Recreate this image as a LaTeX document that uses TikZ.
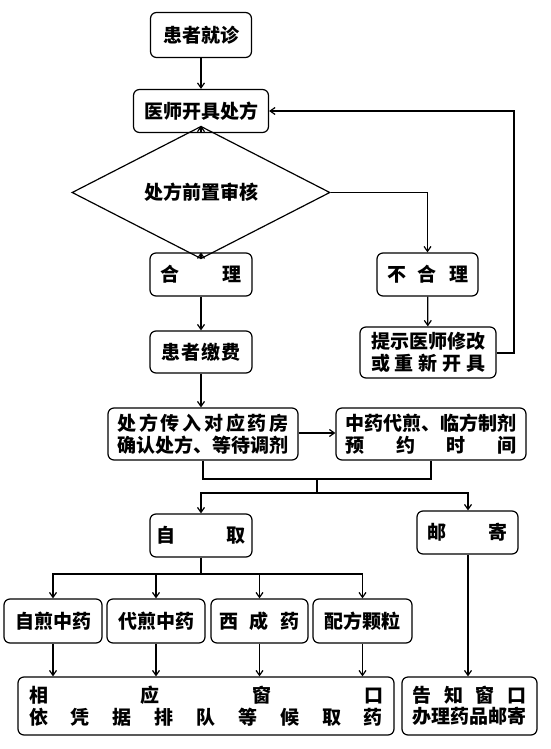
\documentclass[tikz,border=0pt]{standalone}
\usepackage{fontspec}
\setmainfont{Noto Sans CJK SC}
\usetikzlibrary{shapes.geometric,arrows.meta}
\newcommand{\sprd}[2]{\makebox[#1]{#2}}
\begin{document}
\begin{tikzpicture}[x=1pt,y=-1pt,
  box/.style={draw,rounded corners=6pt,line width=1.2pt,inner sep=0pt,font=\fontsize{19}{21.5}\selectfont\bfseries,align=center},
  dia/.style={draw,diamond,line width=1.2pt,inner sep=0pt,font=\fontsize{19}{21.5}\selectfont\bfseries},
  conn/.style={line width=1.2pt},
  arr/.style={line width=1.2pt,-{Straight Barb[length=5pt,width=7pt]}}]
\useasboundingbox (0,0) rectangle (550,749);
\node[box,minimum width=101pt,minimum height=45pt] (a) at (201,35) {患者就诊};
\node[box,minimum width=135pt,minimum height=43pt] (b) at (201,111) {医师开具处方};
\node[dia,minimum width=258pt,minimum height=51pt] (c) at (201,192.5) {处方前置审核};
\node[box,minimum width=102pt,minimum height=43pt] (d) at (201,274.5) {\sprd{81pt}{合\hfill 理}};
\node[box,minimum width=101pt,minimum height=43pt] (e) at (427.5,274.5) {\sprd{81pt}{不\hfill 合\hfill 理}};
\node[box,minimum width=136pt,minimum height=51pt] (f) at (428,352.5) {\sprd{114pt}{提示医师修改}\\\sprd{114pt}{或\hfill 重\hfill 新\hfill 开\hfill 具}};
\node[box,minimum width=102pt,minimum height=42pt] (g) at (201,352) {\sprd{80pt}{患\hfill 者\hfill 缴\hfill 费}};
\node[box,minimum width=190pt,minimum height=52pt] (h) at (203,434) {\sprd{171pt}{处\hfill 方\hfill 传\hfill 入\hfill 对\hfill 应\hfill 药\hfill 房}\\\sprd{171pt}{确认处方、等待调剂}};
\node[box,minimum width=190pt,minimum height=52pt] (i) at (431,434) {\sprd{171pt}{中药代煎、临方制剂}\\\sprd{171pt}{预\hfill 约\hfill 时\hfill 间}};
\node[box,minimum width=102pt,minimum height=43pt] (j) at (201,535.5) {\sprd{89pt}{自\hfill 取}};
\node[box,minimum width=101pt,minimum height=43pt] (k) at (467.5,532.5) {\sprd{80pt}{邮\hfill 寄}};
\node[box,minimum width=98pt,minimum height=44pt] (l1) at (53,621) {自煎中药};
\node[box,minimum width=98pt,minimum height=44pt] (l2) at (156,621) {代煎中药};
\node[box,minimum width=97pt,minimum height=44pt] (l3) at (259.5,621) {\sprd{80pt}{西\hfill 成\hfill 药}};
\node[box,minimum width=99pt,minimum height=44pt] (l4) at (362.5,621) {配方颗粒};
\node[box,minimum width=376pt,minimum height=58pt] (m) at (206,706) {\sprd{354pt}{相\hfill 应\hfill 窗\hfill 口}\\\sprd{354pt}{依\hfill 凭\hfill 据\hfill 排\hfill 队\hfill 等\hfill 候\hfill 取\hfill 药}};
\node[box,minimum width=135pt,minimum height=58pt] (n) at (469.5,706) {\sprd{114pt}{告\hfill 知\hfill 窗\hfill 口}\\\sprd{114pt}{办理药品邮寄}};
\coordinate (fb) at (514,353);
\coordinate (j1) at (317,479);
\coordinate (j2) at (317,493);
\coordinate (s1) at (201,574);
\draw[arr] (a) -- (b);
\draw[arr] (b) -- (c);
\draw[arr] (c) -- (d);
\draw[arr] (c.east) -| (e.north);
\draw[arr] (e) -- (f);
\draw[arr] (f.east |- fb) -- (fb) |- (b.east);
\draw[arr] (d) -- (g);
\draw[arr] (g.south) -- (g.south |- h.north);
\draw[arr] (h.east |- 0,433) -- (i.west |- 0,433);
\draw[conn] (h.south) |- (j1) -| (i.south);
\draw[conn] (j1) -- (j2);
\draw[arr] (j2) -| (j.north);
\draw[arr] (j2) -| (k.north -| 468,0);
\draw[conn] (j.south) -- (s1);
\draw[arr] (s1) -| (l1.north);
\draw[arr] (s1) -| (l2.north);
\draw[arr] (s1) -| (l3.north);
\draw[arr] (s1) -| (l4.north);
\draw[arr] (l1.south) -- (l1.south |- m.north);
\draw[arr] (l2.south) -- (l2.south |- m.north);
\draw[arr] (l3.south) -- (l3.south |- m.north);
\draw[arr] (l4.south) -- (l4.south |- m.north);
\draw[arr] (k.south -| 468,0) -- (n.north -| 468,0);
\end{tikzpicture}
\end{document}
